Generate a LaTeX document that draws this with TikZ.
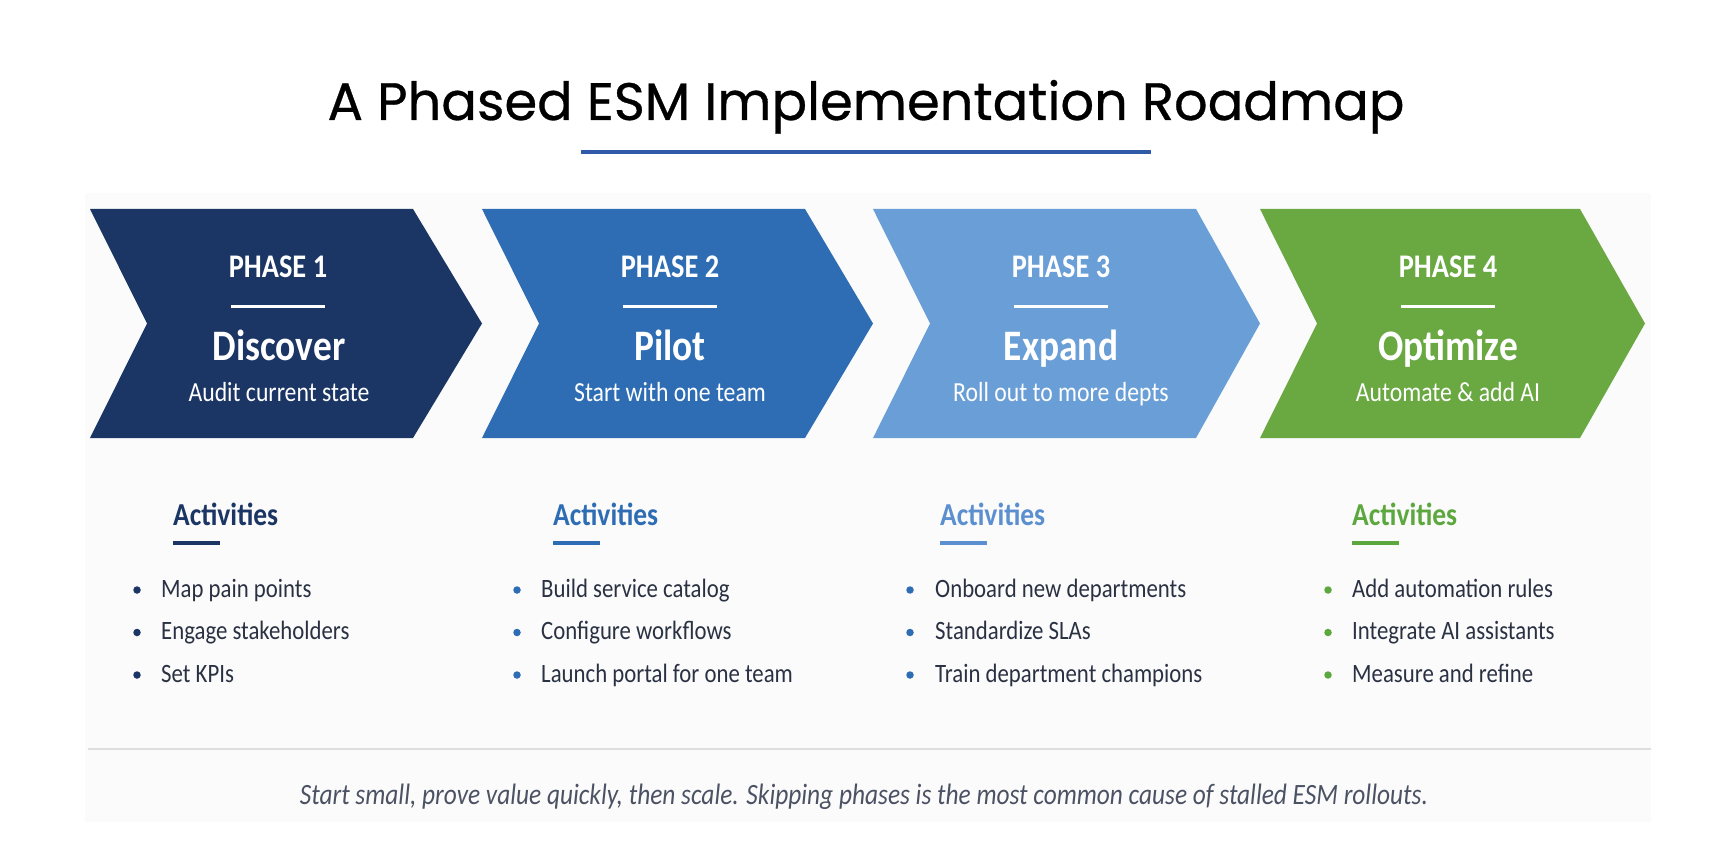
\documentclass[tikz,border=0pt]{standalone}
\usepackage{fontspec}
\setmainfont{Carlito}[FakeStretch=0.86]
\newfontfamily\titlefont{Poppins}[FakeBold=0.6]
\definecolor{navy}{HTML}{1B3564}
\definecolor{midblue}{HTML}{2E6DB4}
\definecolor{skyblue}{HTML}{6A9ED6}
\definecolor{leaf}{HTML}{6AA842}
\definecolor{skyhead}{HTML}{5B8FD0}
\definecolor{leafhead}{HTML}{5DA83E}
\definecolor{ink}{HTML}{2A3142}
\definecolor{note}{HTML}{4B5263}
\definecolor{rulegray}{HTML}{DEDEDE}
\definecolor{panel}{HTML}{FBFBFB}
\definecolor{titleline}{HTML}{2F5AA8}
\begin{document}
\begin{tikzpicture}[x=1pt, y=-1pt,
  phase/.style={text=white, font=\bfseries\fontsize{33}{36}\selectfont, anchor=base, inner sep=0pt},
  stage/.style={text=white, font=\bfseries\fontsize{43.5}{46}\selectfont, anchor=base, inner sep=0pt},
  goal/.style={text=white, font=\fontsize{27.6}{30}\selectfont, anchor=base, inner sep=0pt},
  head/.style={font=\bfseries\fontsize{32}{34}\selectfont, anchor=base west, inner sep=0pt},
  item/.style={text=ink, font=\fontsize{26.5}{28}\selectfont, anchor=base west, inner sep=0pt},
  dot/.style={circle, inner sep=0pt, minimum size=7.5pt}]
  \useasboundingbox[fill=white] (0,0) rectangle (1736,850);
  \fill[panel] (85,193) rectangle (1651,822);

  % title
  \node[font=\titlefont\fontsize{52.7}{56}\selectfont, anchor=base, inner sep=0pt] (T) at (866,120) {A Phased ESM Implementation Roadmap};
  \draw[titleline, line width=4pt] (581,152) -- (1151,152);

  % chevrons
  \fill[navy] (90,209) -- (413,209) -- (482,323.5) -- (413,438) -- (90,438) -- (147,323.5) -- cycle;
  \fill[midblue] (482,209) -- (805,209) -- (873,323.5) -- (805,438) -- (482,438) -- (539,323.5) -- cycle;
  \fill[skyblue] (873,209) -- (1196,209) -- (1260,323.5) -- (1196,438) -- (873,438) -- (930,323.5) -- cycle;
  \fill[leaf] (1260,209) -- (1580,209) -- (1645,323.5) -- (1580,438) -- (1260,438) -- (1317,323.5) -- cycle;

  \node[phase] (P1) at (278,277) {PHASE 1};
  \node[phase] (P2) at (670,277) {PHASE 2};
  \node[phase] (P3) at (1061,277) {PHASE 3};
  \node[phase] (P4) at (1448,277) {PHASE 4};
  \draw[white, line width=3pt] (231,306) -- (325,306);
  \draw[white, line width=3pt] (623,306) -- (717,306);
  \draw[white, line width=3pt] (1014,306) -- (1108,306);
  \draw[white, line width=3pt] (1401,306) -- (1495,306);
  \node[stage] (S1) at (279,360) {Discover};
  \node[stage] (S2) at (670,360) {Pilot};
  \node[stage] (S3) at (1061,360) {Expand};
  \node[stage] (S4) at (1448,360) {Optimize};
  \node[goal] (G1) at (279,401) {Audit current state};
  \node[goal] (G2) at (670,401) {Start with one team};
  \node[goal] (G3) at (1061,401) {Roll out to more depts};
  \node[goal] (G4) at (1448,401) {Automate \& add AI};

  % activities
  \node[head, text=navy] (H1) at (173,525) {Activities};
  \node[head, text=midblue] (H2) at (553,525) {Activities};
  \node[head, text=skyhead] (H3) at (940,525) {Activities};
  \node[head, text=leafhead] (H4) at (1352,525) {Activities};
  \draw[navy, line width=3.5pt] (173,543) -- (220,543);
  \draw[midblue, line width=3.5pt] (553,543) -- (600,543);
  \draw[skyhead, line width=3.5pt] (940,543) -- (987,543);
  \draw[leafhead, line width=3.5pt] (1352,543) -- (1399,543);

  \node[dot, fill=navy] (D11) at (137,590) {};
  \node[dot, fill=navy] (D12) at (137,632.5) {};
  \node[dot, fill=navy] (D13) at (137,675) {};
  \node[item] (A11) at (161,597) {Map pain points};
  \node[item] (A12) at (161,639.5) {Engage stakeholders};
  \node[item] (A13) at (161,682) {Set KPIs};

  \node[dot, fill=midblue] (D21) at (517,590) {};
  \node[dot, fill=midblue] (D22) at (517,632.5) {};
  \node[dot, fill=midblue] (D23) at (517,675) {};
  \node[item] (A21) at (541,597) {Build service catalog};
  \node[item] (A22) at (541,639.5) {Configure workflows};
  \node[item] (A23) at (541,682) {Launch portal for one team};

  \node[dot, fill=midblue] (D31) at (910,590) {};
  \node[dot, fill=midblue] (D32) at (910,632.5) {};
  \node[dot, fill=midblue] (D33) at (910,675) {};
  \node[item] (A31) at (935,597) {Onboard new departments};
  \node[item] (A32) at (935,639.5) {Standardize SLAs};
  \node[item] (A33) at (935,682) {Train department champions};

  \node[dot, fill=leafhead] (D41) at (1328,590) {};
  \node[dot, fill=leafhead] (D42) at (1328,632.5) {};
  \node[dot, fill=leafhead] (D43) at (1328,675) {};
  \node[item] (A41) at (1352,597) {Add automation rules};
  \node[item] (A42) at (1352,639.5) {Integrate AI assistants};
  \node[item] (A43) at (1352,682) {Measure and refine};

  % footer
  \draw[rulegray, line width=2pt] (88,749) -- (1651,749);
  \node[text=note, font=\itshape\fontsize{29.5}{32}\selectfont, anchor=base, inner sep=0pt] (F) at (864,804) {Start small, prove value quickly, then scale. Skipping phases is the most common cause of stalled ESM rollouts.};
\end{tikzpicture}
\end{document}
